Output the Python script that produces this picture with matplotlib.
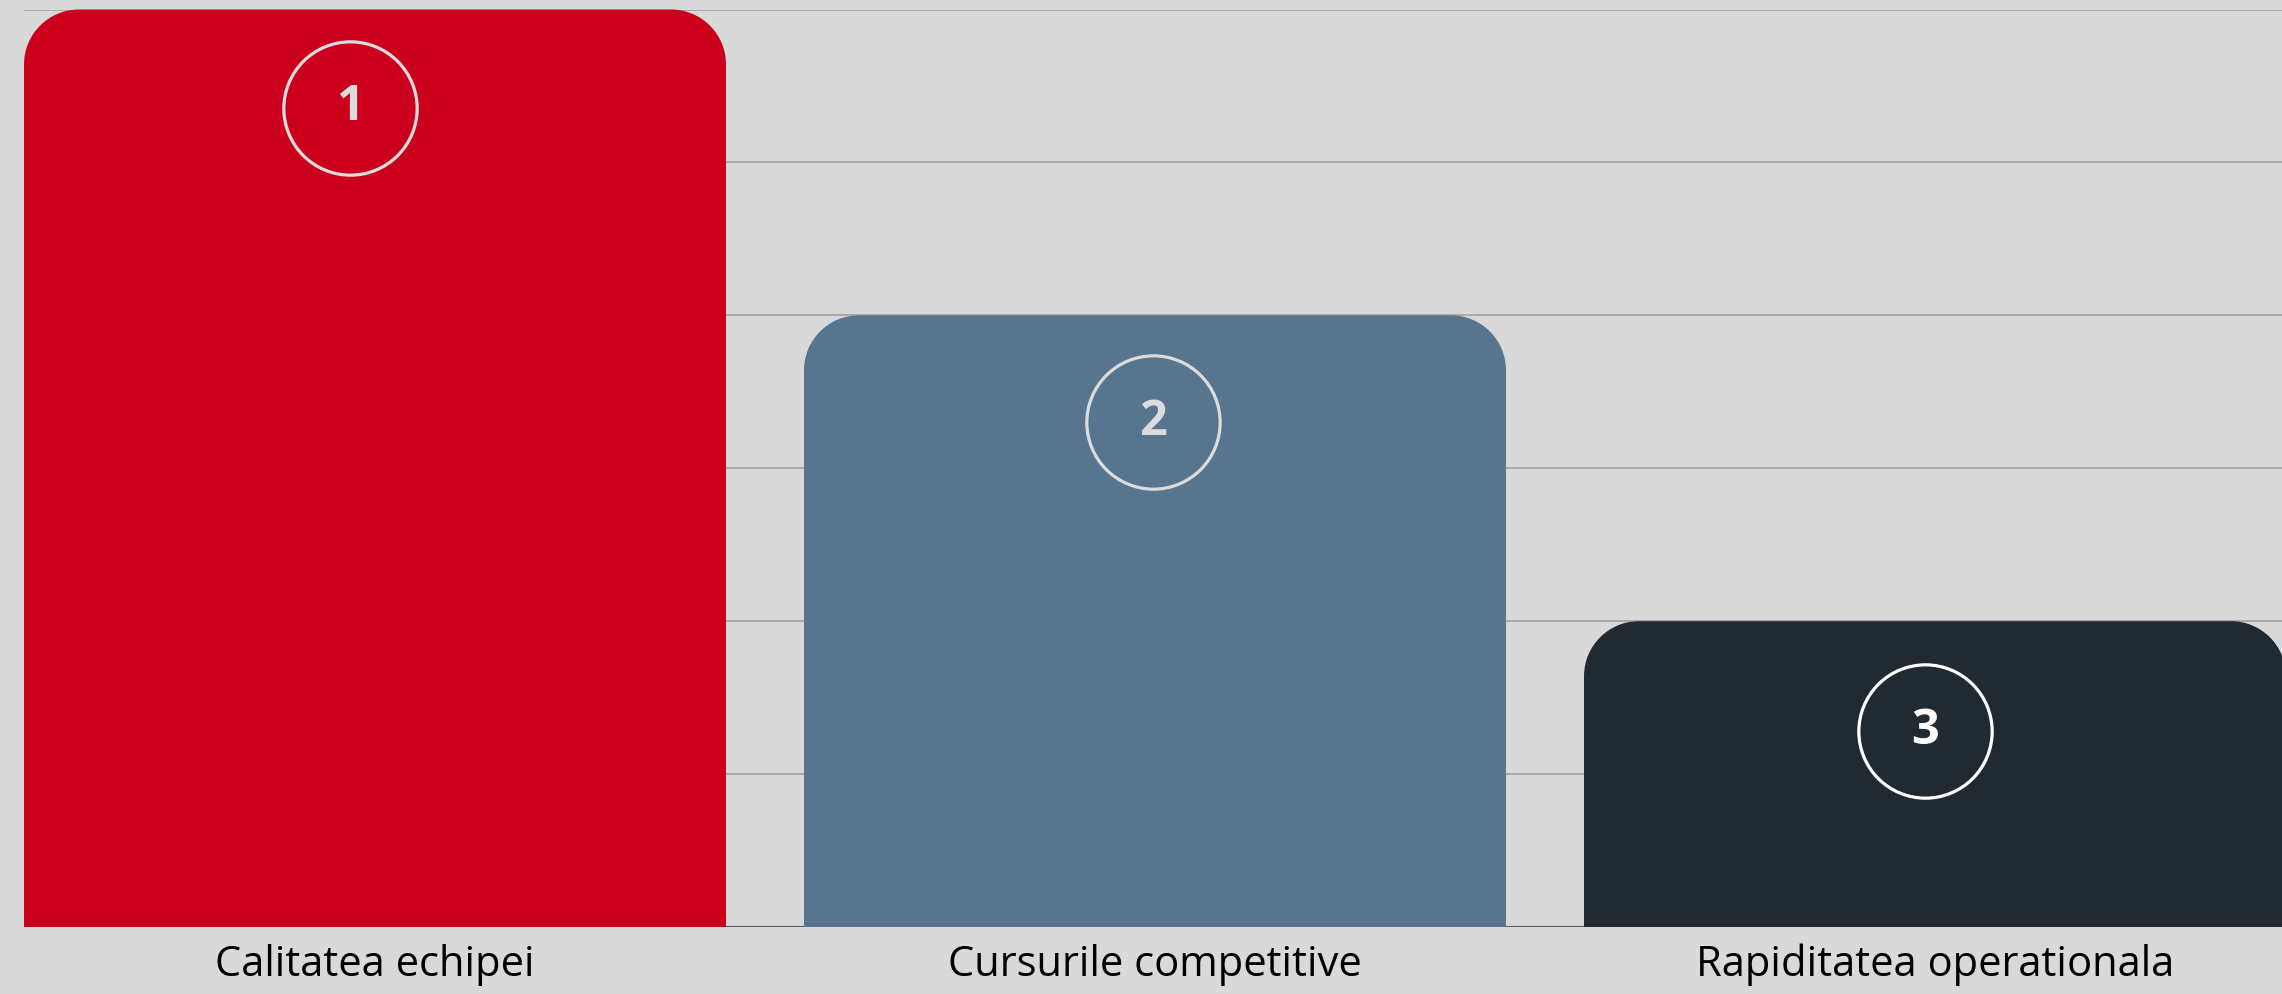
import matplotlib.pyplot as plt
from matplotlib.path import Path
from matplotlib.patches import PathPatch
import numpy as np

# date
categorii = ["Calitatea echipei", "Cursurile competitive", "Rapiditatea operationala"]
valori = [3, 2, 1]
ranguri = ["1", "2", "3"]
culori = ["#CB001C", "#57758F", "#212931"]
culori_cerc = ["#DCDCDC", "#DCDCDC", "#FFFFFF"]
# mica deplasare a cercurilor fata de centrul barei (unitati de date)
dx_cerc = [-0.032, -0.002, -0.013]
dy_cerc = [0.322, 0.35, 0.36]

bg = "#D9D9D9"
plt.rcParams['font.family'] = ['Open Sans', 'DejaVu Sans']

fig = plt.figure(figsize=(22.82, 9.94), dpi=100, facecolor=bg)
ax = fig.add_axes([24 / 2282, 67 / 994, 2262 / 2282, 917.5 / 994])
ax.set_facecolor(bg)

x = np.arange(len(categorii))
bare = ax.bar(x, valori, width=0.9, color=culori, zorder=3)

ax.set_xlim(-0.45, 2.45)
ax.set_ylim(0, 3)

# colturi rotunjite sus
rx = 55 / 780
ry = 55 / 305.8
k = 0.5523
for b, c in zip(bare, culori):
    x0, w, h = b.get_x(), b.get_width(), b.get_height()
    x1 = x0 + w
    verts = [
        (x0, 0), (x0, h - ry),
        (x0, h - ry + k * ry), (x0 + rx - k * rx, h), (x0 + rx, h),
        (x1 - rx, h),
        (x1 - rx + k * rx, h), (x1, h - ry + k * ry), (x1, h - ry),
        (x1, 0), (x0, 0),
    ]
    codes = [Path.MOVETO, Path.LINETO,
             Path.CURVE4, Path.CURVE4, Path.CURVE4,
             Path.LINETO,
             Path.CURVE4, Path.CURVE4, Path.CURVE4,
             Path.LINETO, Path.CLOSEPOLY]
    ax.add_patch(PathPatch(Path(verts, codes), facecolor=c, edgecolor='none', zorder=3, clip_on=False))
    b.set_visible(False)

# cercuri cu numere
for i in range(len(categorii)):
    cx = x[i] + dx_cerc[i]
    cy = valori[i] - dy_cerc[i]
    ax.plot(cx, cy, marker='o', markersize=96, markerfacecolor='none',
            markeredgecolor=culori_cerc[i], markeredgewidth=2.3, zorder=4)
    ax.text(cx, cy, ranguri[i], ha='center', va='center', fontsize=35,
            fontweight='bold', color=culori_cerc[i], zorder=5)

ax.set_yticks(np.arange(0.5, 3.01, 0.5))
ax.yaxis.grid(True, color='#A6A6A6', linewidth=1.3, zorder=0)
ax.tick_params(axis='y', left=False, labelleft=False)
ax.axhline(0, color='#5A5A5A', linewidth=1.5, zorder=2)

ax.set_xticks(x)
ax.set_xticklabels(categorii, fontsize=30, color='#000000')
ax.tick_params(axis='x', length=0, pad=12)

for s in ax.spines.values():
    s.set_visible(False)

fig.savefig("out.png", dpi=100, facecolor=bg)
